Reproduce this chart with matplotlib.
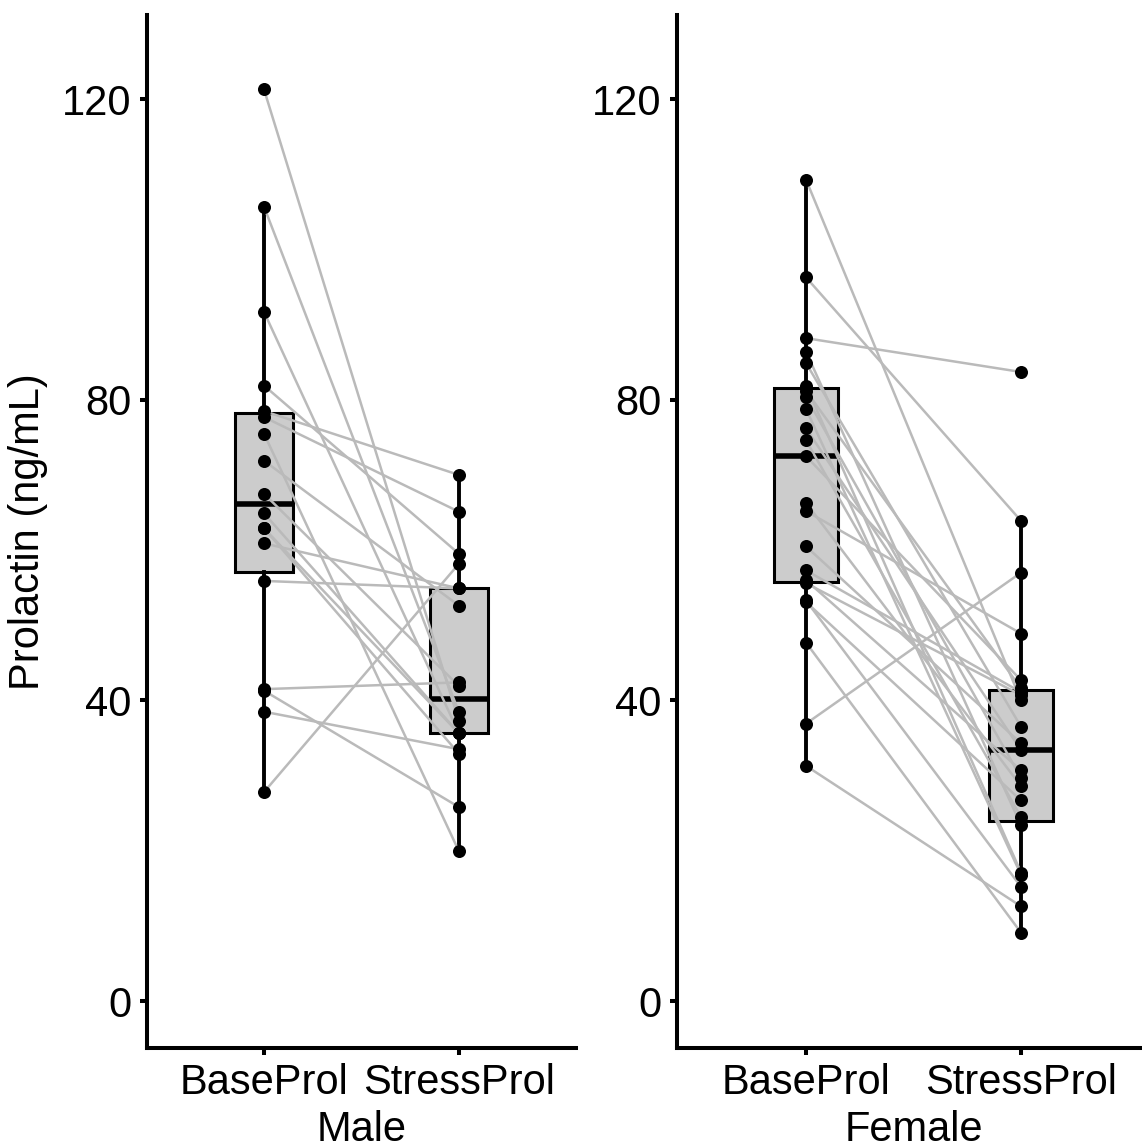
import numpy as np
import matplotlib.pyplot as plt

plt.rcParams['font.family'] = ['Liberation Sans', 'DejaVu Sans']

conditions = ["BaseProl", "StressProl"]
groups = ["Male", "Female"]

# paired values, one entry per subject
male_base = [121.3, 105.7, 91.7, 81.9, 78.5, 77.7, 75.5, 71.9, 67.5,
             64.9, 62.9, 62.9, 60.9, 55.9, 41.5, 41.3, 38.5, 27.8]
male_stress = [37.2, 38.4, 35.6, 59.5, 70.0, 65.1, 19.9, 52.6, 41.9,
               35.6, 35.6, 32.9, 54.9, 54.9, 42.4, 25.8, 33.5, 58.2]

female_base = [109.3, 96.3, 88.2, 86.4, 84.9, 81.9, 81.2, 80.4, 78.8, 76.2,
               74.6, 72.5, 66.3, 65.2, 60.5, 57.3, 56.0, 55.6, 53.3, 53.1,
               47.7, 36.9, 31.3]
female_stress = [40.0, 63.9, 83.7, 23.4, 36.5, 17.1, 41.6, 29.7, 16.8, 33.4,
                 24.5, 42.7, 28.6, 48.9, 34.3, 41.1, 30.7, 40.7, 15.2, 26.7,
                 9.1, 57.0, 12.6]

yticks = [0, 40, 80, 120]

data = {"Male": (male_base, male_stress), "Female": (female_base, female_stress)}

fig = plt.figure(figsize=(11.42, 11.44), dpi=100)
rects = {"Male": [0.1287, 0.0839, 0.3757, 0.903],
         "Female": [0.5928, 0.0839, 0.4142, 0.903]}

for g in groups:
    ax = fig.add_axes(rects[g])
    base, stress = data[g]
    pos = [1, 2]

    ax.boxplot([base, stress], positions=pos, widths=0.3, patch_artist=True,
               showfliers=False, showcaps=False, whis=1.5,
               boxprops=dict(facecolor='#CCCCCC', edgecolor='black', linewidth=2.2),
               medianprops=dict(color='black', linewidth=4),
               whiskerprops=dict(color='black', linewidth=2.8),
               zorder=1)

    # paired lines
    for b, s in zip(base, stress):
        ax.plot(pos, [b, s], color='#BABABA', linewidth=1.8, zorder=2)

    ax.scatter(np.full(len(base), 1), base, s=88, color='black', zorder=3, linewidths=0)
    ax.scatter(np.full(len(stress), 2), stress, s=88, color='black', zorder=3, linewidths=0)

    ax.set_xlim(0.4, 2.6)
    ax.set_ylim(-6.25, 131.2)
    ax.set_xticks(pos)
    ax.set_xticklabels(conditions)
    ax.set_yticks(yticks)
    ax.set_xlabel(g, fontsize=30, labelpad=5)
    if g == "Male":
        ax.set_ylabel("Prolactin (ng/mL)", fontsize=30, labelpad=10)

    for side in ['top', 'right']:
        ax.spines[side].set_visible(False)
    for side in ['left', 'bottom']:
        ax.spines[side].set_linewidth(2.9)
    ax.tick_params(axis='both', labelsize=30, width=2.9, length=5, pad=6, colors='black')

fig.savefig("out.png", dpi=100)
